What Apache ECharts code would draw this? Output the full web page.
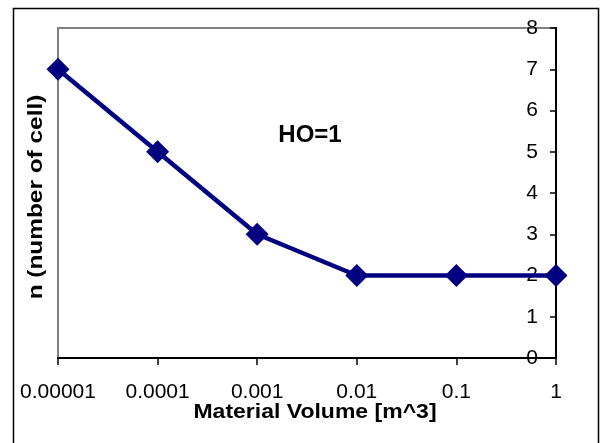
<!DOCTYPE html>
<html>
<head>
<meta charset="utf-8">
<script src="https://cdn.jsdelivr.net/npm/echarts@6/dist/echarts.min.js"></script>
<style>
html,body{margin:0;padding:0;background:#fff;}
#chart{width:600px;height:443px;}
</style>
</head>
<body>
<div id="chart"></div>
<script>
var categories = ['0.00001', '0.0001', '0.001', '0.01', '0.1', '1'];
var cellCounts = [7, 5, 3, 2, 2, 2];
var yTicks = { min: 0, max: 8, interval: 1 };
var xTitle = 'Material Volume [m^3]';
var yTitle = 'n (number of cell)';
var annotation = 'HO=1';

var FONT = '"Liberation Sans", Arial, sans-serif';
var chart = echarts.init(document.getElementById('chart'), null, { renderer: 'canvas' });
chart.setOption({
  animation: false,
  backgroundColor: '#ffffff',
  grid: {
    left: 58, right: 44, top: 28, bottom: 85,
    show: true, borderColor: '#808080', borderWidth: 2, backgroundColor: 'transparent'
  },
  xAxis: {
    type: 'category',
    data: categories,
    boundaryGap: false,
    axisLine: { lineStyle: { color: '#000', width: 2 } },
    axisTick: { show: true, interval: 0, length: 7, lineStyle: { color: '#000', width: 1.5 } },
    axisLabel: { interval: 0, hideOverlap: false, color: '#000', fontSize: 21, fontFamily: FONT, margin: 24 },
    splitLine: { show: false }
  },
  yAxis: {
    type: 'value',
    position: 'right',
    min: yTicks.min, max: yTicks.max, interval: yTicks.interval,
    axisLine: { show: true, lineStyle: { color: '#000', width: 2 } },
    axisTick: { show: true, inside: true, length: 6, lineStyle: { color: '#000', width: 1.5 } },
    axisLabel: { inside: true, color: '#000', fontSize: 21, fontFamily: FONT, margin: 18 },
    splitLine: { show: false }
  },
  series: [{
    type: 'line',
    data: cellCounts,
    symbol: 'diamond',
    symbolSize: 23,
    lineStyle: { color: '#000080', width: 4.5 },
    itemStyle: { color: '#000080' },
    z: 5
  }],
  graphic: [
    { type: 'rect', shape: { x: 13.5, y: 8.5, width: 585, height: 445 },
      style: { fill: 'none', stroke: '#000', lineWidth: 1.5 }, silent: true },
    { type: 'text', x: 315, y: 413, scaleX: 1.18,
      style: { text: xTitle, font: 'bold 19.5px ' + FONT, fill: '#000', textAlign: 'center', textVerticalAlign: 'middle' } },
    { type: 'text', x: 36, y: 197, rotation: Math.PI / 2, scaleX: 1.22,
      style: { text: yTitle, font: 'bold 20px ' + FONT, fill: '#000', textAlign: 'center', textVerticalAlign: 'middle' } },
    { type: 'text', x: 310, y: 135,
      style: { text: annotation, font: 'bold 24px ' + FONT, fill: '#000', textAlign: 'center', textVerticalAlign: 'middle' } }
  ]
});
</script>
</body>
</html>
